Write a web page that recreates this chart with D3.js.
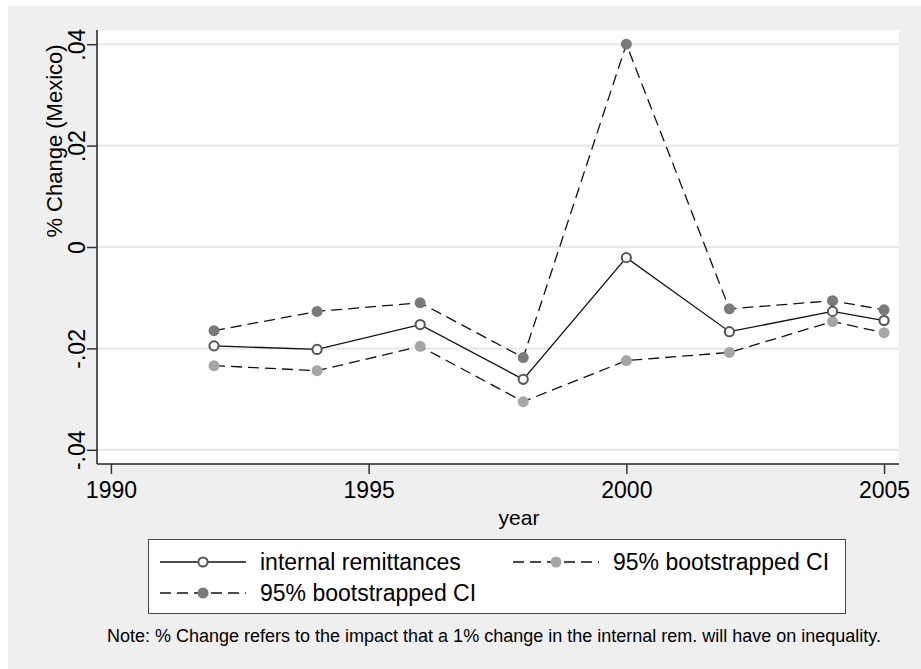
<!DOCTYPE html>
<html>
<head>
<meta charset="utf-8">
<script src="https://cdn.jsdelivr.net/npm/d3@7"></script>
<style>
body { margin: 0; background: #fff; }
svg text { font-family: "Liberation Sans", Arial, sans-serif; fill: #000; }
</style>
</head>
<body>
<div id="chart"></div>
<script>
// data
var years = [1992, 1994, 1996, 1998, 2000, 2002, 2004, 2005];
var internalRem = [-0.0195, -0.0202, -0.0153, -0.0261, -0.0021, -0.0167, -0.0127, -0.0145];
var ciLow = [-0.0234, -0.0244, -0.0196, -0.0305, -0.0224, -0.0208, -0.0147, -0.0169];
var ciHigh = [-0.0165, -0.0127, -0.0110, -0.0218, 0.0400, -0.0122, -0.0106, -0.0124];
var xTicks = [1990, 1995, 2000, 2005];
var yTicks = [-0.04, -0.02, 0, 0.02, 0.04];
var yTickLabels = ["-.04", "-.02", "0", ".02", ".04"];
var legendLabels = ["internal remittances", "95% bootstrapped CI", "95% bootstrapped CI"];
var note = "Note: % Change refers to the impact that a 1% change in the internal rem. will have on inequality.";

var W = 921, H = 669;
var plot = {left: 97, right: 899, top: 30, bottom: 464};

var svg = d3.select("#chart").append("svg")
	.attr("width", W).attr("height", H);

// outer gray graph region
svg.append("rect")
	.attr("x", 8).attr("y", 6)
	.attr("width", W - 8).attr("height", H - 6)
	.attr("fill", "#efefef");

svg.append("rect")
	.attr("x", plot.left).attr("y", plot.top)
	.attr("width", plot.right - plot.left).attr("height", plot.bottom - plot.top)
	.attr("fill", "#fff");

var x = d3.scaleLinear()
	.domain([1989.73, 2005.29])
	.range([plot.left, plot.right]);

var y = d3.scaleLinear()
	.domain([-0.0428, 0.0428])
	.range([plot.bottom, plot.top]);

// gridlines
svg.append("g").selectAll("line")
	.data(yTicks).enter().append("line")
	.attr("x1", plot.left).attr("x2", plot.right)
	.attr("y1", function(d){ return y(d); })
	.attr("y2", function(d){ return y(d); })
	.attr("stroke", "#e8e8e8").attr("stroke-width", 2);

// axes
var yAxis = d3.axisLeft(y)
	.tickValues(yTicks)
	.tickSize(10)
	.tickFormat(function(d, i){ return yTickLabels[i]; });

var gy = svg.append("g")
	.attr("transform", "translate(" + plot.left + ",0)")
	.call(yAxis);
gy.select(".domain").attr("stroke", "#222").attr("stroke-width", 1.5)
	.attr("d", "M0," + plot.top + "V" + plot.bottom);
gy.selectAll(".tick line").attr("stroke", "#333").attr("stroke-width", 1.5);
gy.selectAll(".tick text")
	.attr("x", 0).attr("dy", 0)
	.attr("transform", "translate(-12,0) rotate(-90)")
	.attr("text-anchor", "middle")
	.style("font-size", "23px");

var xAxis = d3.axisBottom(x)
	.tickValues(xTicks)
	.tickSize(10)
	.tickFormat(d3.format("d"));

var gx = svg.append("g")
	.attr("transform", "translate(0," + plot.bottom + ")")
	.call(xAxis);
gx.select(".domain").attr("stroke", "#222").attr("stroke-width", 1.5)
	.attr("d", "M" + plot.left + ",0H" + plot.right);
gx.selectAll(".tick line").attr("stroke", "#333").attr("stroke-width", 1.5);
gx.selectAll(".tick text")
	.attr("y", 34).attr("dy", 0)
	.style("font-size", "23px");

// axis titles
svg.append("text")
	.attr("x", 519).attr("y", 525)
	.attr("text-anchor", "middle")
	.style("font-size", "21px")
	.text("year");

svg.append("text")
	.attr("transform", "translate(62,141) rotate(-90)")
	.attr("text-anchor", "middle")
	.style("font-size", "22px")
	.text("% Change (Mexico)");

// series
var series = [
	{vals: ciHigh, dash: "11,6", fill: "#7a7a7a", stroke: "none"},
	{vals: ciLow, dash: "11,6", fill: "#a6a6a6", stroke: "none"},
	{vals: internalRem, dash: null, fill: "#fff", stroke: "#555"}
];

var line = d3.line()
	.x(function(d){ return x(d[0]); })
	.y(function(d){ return y(d[1]); });

series.forEach(function(s){
	var pts = years.map(function(yr, i){ return [yr, s.vals[i]]; });
	svg.append("path")
		.attr("d", line(pts))
		.attr("fill", "none")
		.attr("stroke", "#111")
		.attr("stroke-width", 1.3)
		.attr("stroke-dasharray", s.dash);
});

series.forEach(function(s){
	var pts = years.map(function(yr, i){ return [yr, s.vals[i]]; });
	svg.append("g").selectAll("circle")
		.data(pts).enter().append("circle")
		.attr("cx", function(d){ return x(d[0]); })
		.attr("cy", function(d){ return y(d[1]); })
		.attr("r", s.stroke == "none" ? 5.5 : 4.6)
		.attr("fill", s.fill)
		.attr("stroke", s.stroke)
		.attr("stroke-width", 2);
});

// legend
var leg = svg.append("g");
leg.append("rect")
	.attr("x", 148.5).attr("y", 539.5)
	.attr("width", 697).attr("height", 74)
	.attr("fill", "#fff")
	.attr("stroke", "#444").attr("stroke-width", 1);

var legItems = [
	{label: legendLabels[0], s: series[2], x0: 160, y0: 562},
	{label: legendLabels[1], s: series[1], x0: 513, y0: 562},
	{label: legendLabels[2], s: series[0], x0: 160, y0: 593}
];

legItems.forEach(function(it){
	leg.append("line")
		.attr("x1", it.x0).attr("x2", it.x0 + 86)
		.attr("y1", it.y0).attr("y2", it.y0)
		.attr("stroke", "#111").attr("stroke-width", 1.3)
		.attr("stroke-dasharray", it.s.dash);
	leg.append("circle")
		.attr("cx", it.x0 + 43).attr("cy", it.y0)
		.attr("r", it.s.stroke == "none" ? 5.5 : 4.6)
		.attr("fill", it.s.fill)
		.attr("stroke", it.s.stroke).attr("stroke-width", 2);
	leg.append("text")
		.attr("x", it.x0 + 100).attr("y", it.y0 + 8)
		.style("font-size", "23px")
		.text(it.label);
});

svg.append("text")
	.attr("x", 494).attr("y", 642)
	.attr("text-anchor", "middle")
	.style("font-size", "18px")
	.text(note);
</script>
</body>
</html>
